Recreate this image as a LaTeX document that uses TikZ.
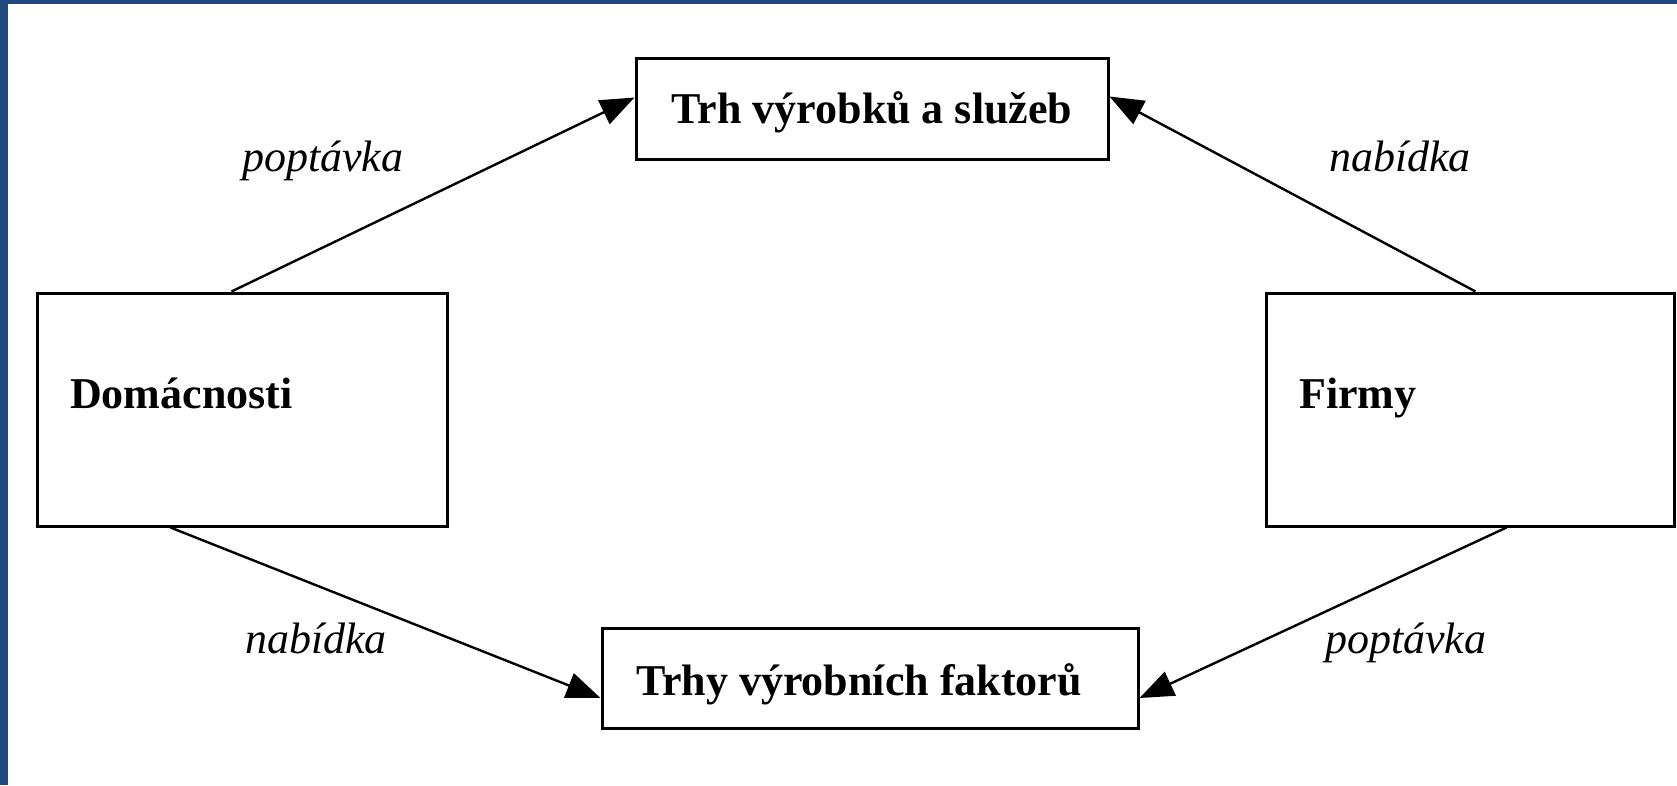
\documentclass[tikz,border=0pt]{standalone}
\usepackage{fontspec}
\setmainfont{Liberation Serif}
\usetikzlibrary{arrows.meta}
\definecolor{frameblue}{RGB}{31,73,125}
\tikzset{
  box/.style={draw=black, line width=3pt, fill=white, inner sep=0pt, rectangle,
    font=\fontsize{44}{48}\selectfont\bfseries},
  lbl/.style={inner sep=0pt, anchor=base west, font=\fontsize{44}{48}\selectfont\itshape},
  txt/.style={inner sep=0pt, anchor=base west, font=\fontsize{44}{48}\selectfont\bfseries},
  flow/.style={line width=2.4pt, -{Triangle[length=34pt,width=26pt]}}
}
\begin{document}
\begin{tikzpicture}[x=1pt,y=-1pt]
\useasboundingbox (0,0) rectangle (1677,785);
\fill[frameblue] (0,0) rectangle (1677,785);
\fill[white] (8,4) rectangle (1677,785);
\node[box, minimum width=472pt, minimum height=101pt, text height=29pt, text depth=0pt] (top) at (872,108.5) {Trh výrobků a služeb};
\node[box, minimum width=536pt, minimum height=100pt, text height=34pt, text depth=0pt] (bot) at (870,678) {\kern-22pt Trhy výrobních faktorů};
\node[box, minimum width=410pt, minimum height=233pt] (dom) at (242,409.5) {};
\node[box, minimum width=408pt, minimum height=233pt] (firm) at (1470,409.5) {};
\node[txt] (domt) at (70,408) {Domácnosti};
\node[txt] (firmt) at (1299,408) {Firmy};
\draw[flow] ([xshift=196pt]dom.north west) -- ([yshift=11pt]top.west);
\draw[flow] ([xshift=211pt]firm.north west) -- ([yshift=12pt]top.east);
\draw[flow] ([xshift=135pt]dom.south west) -- ([yshift=-20pt]bot.west);
\draw[flow] ([xshift=242pt]firm.south west) -- ([yshift=-20pt]bot.east);
\node[lbl] (l1) at (242,171) {poptávka};
\node[lbl] (l2) at (1329,171) {nabídka};
\node[lbl] (l3) at (245,653) {nabídka};
\node[lbl] (l4) at (1325,653) {poptávka};
\end{tikzpicture}
\end{document}
